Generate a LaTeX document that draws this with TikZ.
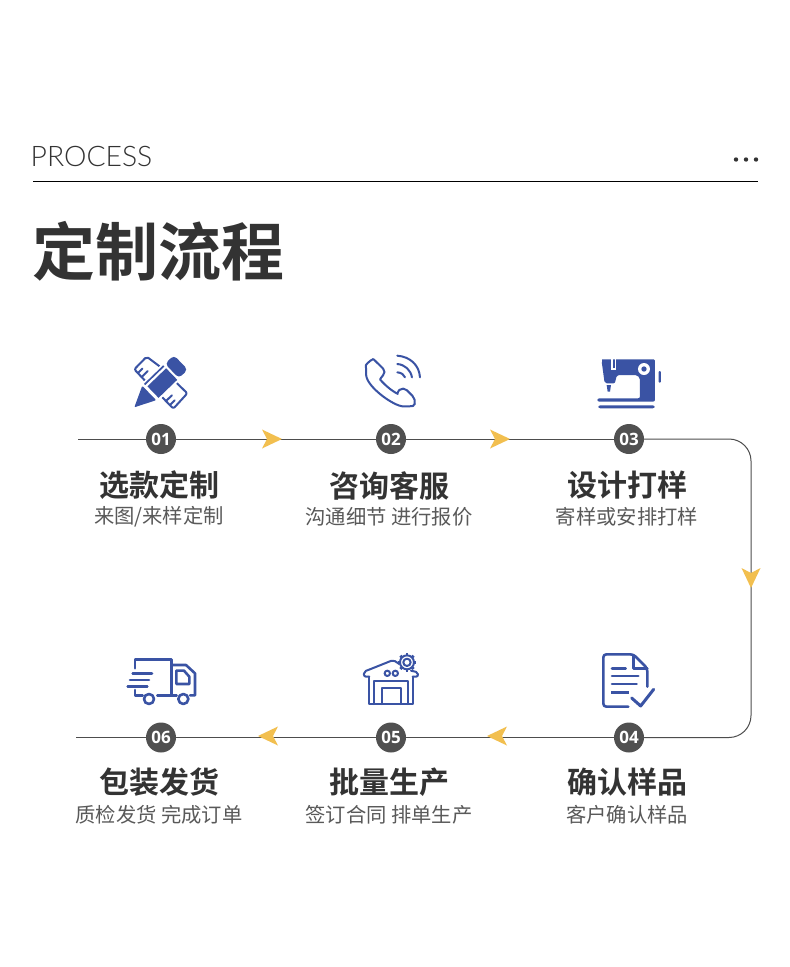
\documentclass[tikz,border=0pt]{standalone}
\usetikzlibrary{calc}
\usepackage{fontspec}
\setmainfont{Noto Sans CJK SC}[BoldFont=* Bold]
\newfontfamily\latinlight{Lato Light}
\newfontfamily\numfont{Open Sans}[BoldFont=* Bold]
\definecolor{iconblue}{HTML}{3A53A4}
\definecolor{darktxt}{HTML}{333333}
\definecolor{subtxt}{HTML}{595959}
\definecolor{linegray}{HTML}{4D4D4D}
\definecolor{badge}{HTML}{505050}
\definecolor{arrowy}{HTML}{F2BF4F}
\tikzset{
  badgenode/.style={circle,fill=badge,text=white,minimum size=30pt,inner sep=0pt,font=\numfont\bfseries\fontsize{17}{17}\selectfont},
  headnode/.style={text=darktxt,inner sep=0pt,font=\bfseries\fontsize{30}{32}\selectfont},
  subnode/.style={text=subtxt,inner sep=0pt,font=\fontsize{20.3}{22}\selectfont},
  flow/.style={draw=linegray,line width=1pt},
  iconline/.style={draw=iconblue,line width=2.6pt,line cap=round,line join=round,fill=none},
  iconthin/.style={draw=iconblue,line width=2pt,line cap=round,line join=round,fill=none},
  zoomA/.style={shift={(110,340)},x=0.3333pt,y=-0.3333pt},
  zoomB/.style={shift={(570,340)},x=0.3333pt,y=-0.3333pt},
  zoomC/.style={shift={(110,640)},x=0.3333pt,y=-0.3333pt},
  zoomD/.style={shift={(570,640)},x=0.3333pt,y=-0.3333pt},
}
\newcommand{\yarrowmark}[3]{%
  \fill[arrowy,shift={(#1,#2)},rotate=#3] (-10,-9.5) -- (10,0) -- (-10,9.5) -- (-5,0) -- cycle;}
\begin{document}
\begin{tikzpicture}[x=1pt,y=-1pt]
\useasboundingbox (0,0) rectangle (790,967);
\fill[white] (0,0) rectangle (790,967);

% header
\node[anchor=west,inner sep=0pt,text=darktxt,font=\latinlight\fontsize{28.3}{30}\selectfont] (proc) at (30.5,156) {PROCESS};
\coordinate (ruleL) at (33,181.5);
\coordinate (ruleR) at (758,181.5);
\draw[black,line width=1pt] (ruleL) -- (ruleR);
\foreach \dx in {736,746,756} \fill[darktxt] (\dx,159.5) circle (2.2pt);
\node[anchor=west,inner sep=0pt,text=darktxt,font=\bfseries\fontsize{63}{66}\selectfont] (title) at (32,251) {定制流程};

% flow line
\coordinate (startL) at (78,439);
\coordinate (cornerA) at (751,439);
\coordinate (cornerB) at (751,737.5);
\coordinate (endL) at (76,737.5);
\node[badgenode] (n1) at (161,439) {01};
\node[badgenode] (n2) at (391,439) {02};
\node[badgenode] (n3) at (629,439) {03};
\node[badgenode] (n4) at (629,737.5) {04};
\node[badgenode] (n5) at (391,737.5) {05};
\node[badgenode] (n6) at (161,737.5) {06};
\draw[flow] (startL) -- (n1);
\draw[flow] (n1) -- (n2);
\draw[flow] (n2) -- (n3);
\draw[flow,rounded corners=22pt] (n3) -- (cornerA) -- (cornerB) -- (n4);
\draw[flow] (n4) -- (n5);
\draw[flow] (n5) -- (n6);
\draw[flow] (n6) -- (endL);
\yarrowmark{272}{439}{0}
\yarrowmark{500}{439}{0}
\yarrowmark{751}{578}{-90}
\yarrowmark{497}{736}{180}
\yarrowmark{268}{736}{180}

% labels
\node[headnode] (h1) at (159,485.5) {选款定制};
\node[headnode] (h2) at (389,485.5) {咨询客服};
\node[headnode] (h3) at (627.5,485.5) {设计打样};
\node[headnode] (h4) at (627,782.5) {确认样品};
\node[headnode] (h5) at (389,782.5) {批量生产};
\node[headnode] (h6) at (159,782.5) {包装发货};
\node[subnode] (s1) at (159,516.5) {来图/来样定制};
\node[subnode] (s2) at (389,516.5) {沟通细节 进行报价};
\node[subnode] (s3) at (627,516.5) {寄样或安排打样};
\node[subnode] (s4) at (627,814.5) {客户确认样品};
\node[subnode] (s5) at (389,814.5) {签订合同 排单生产};
\node[subnode] (s6) at (159,814.5) {质检发货 完成订单};

% icon 1: pencil and ruler
\begin{scope}[zoomA]
  \draw[iconthin,rounded corners=2pt] (105,122) -- (73,88) -- (110,50) -- (150,80);
  \draw[iconthin] (84,99) -- (97,86) (95,111) -- (113,93);
  \draw[iconthin,rounded corners=2pt] (198,127) -- (232,160) -- (190,206) -- (157,172);
  \draw[iconthin] (168,183) -- (186,166) (180,195) -- (194,181);
  \fill[white,shift={(73,202)},rotate=44] (60,-36) rectangle (196,36);
  \begin{scope}[shift={(73,202)},rotate=44]
    \fill[iconblue,rounded corners=1pt] (0,0) -- (62,-30) -- (62,30) -- cycle;
    \fill[iconblue] (72,-18) rectangle (150,30);
    \draw[iconblue,line width=1.7pt] (70,-28) -- (150,-28);
    \fill[iconblue,rounded corners=4pt] (157,-30) rectangle (194,30);
  \end{scope}
\end{scope}

% icon 2: phone
\begin{scope}[zoomA]
  \draw[iconthin,rounded corners=5pt] (790,57) -- (830,96) .. controls (815,110) and (810,118) .. (820,130) -- (850,155) .. controls (860,160) and (868,150) .. (880,140) -- (918,178) .. controls (915,190) and (908,198) .. (895,200) .. controls (850,198) and (770,140) .. (768,90) .. controls (768,75) and (778,62) .. (790,57);
  \draw[iconthin] (862,97) .. controls (875,98) and (882,104) .. (885,112);
  \draw[iconthin] (862,72) .. controls (885,74) and (902,90) .. (906,112);
  \draw[iconthin] (862,47) .. controls (900,50) and (928,75) .. (930,112);
\end{scope}

% icon 3: sewing machine
\begin{scope}[zoomB]
  \fill[iconblue,rounded corners=2pt] (95,64) .. controls (96,60) and (98,58) .. (102,58) -- (245,58) .. controls (252,58) and (255,62) .. (255,68) -- (255,185) -- (82,185) -- (82,175) -- (210,175) -- (210,125) .. controls (210,112) and (202,105) .. (190,105) -- (155,105) .. controls (140,105) and (136,115) .. (136,130) -- (104,130) -- cycle;
  \fill[white] (124,58) rectangle (129,88);
  \fill[white] (134,58) rectangle (139,88);
  \fill[white] (124,85) rectangle (139,90);
  \fill[iconblue] (110,135) -- (123,135) -- (120,155) -- (113,155) -- cycle;
  \fill[white] (222,87) circle (18);
  \fill[iconblue] (222,87) circle (8);
  \fill[iconblue,rounded corners=1pt] (266,93) rectangle (273,128);
  \fill[iconblue,rounded corners=2pt] (85,196) rectangle (254,205);
\end{scope}

% icon 4: document
\begin{scope}[zoomD]
  \draw[iconline,rounded corners=3pt] (175,200) -- (100,200) -- (100,43) -- (190,43) -- (232,85) -- (232,140);
  \draw[iconline] (191,46) -- (191,85) -- (232,85);
  \draw[iconline] (126,85) -- (167,85);
  \draw[iconline] (126,108) -- (205,108);
  \draw[iconline] (126,132) -- (200,132);
  \draw[iconline,line width=3.2pt,line cap=butt] (124,157) -- (178,157);
  \draw[iconline,line width=3pt] (185,174) -- (212,198) -- (251,148);
\end{scope}

% icon 5: factory
\begin{scope}[zoomC]
  \draw[iconthin,rounded corners=2pt] (778,110) -- (762,110) -- (762,95) -- (850,60) -- (868,72);
  \draw[iconthin,rounded corners=2pt] (903,92) -- (924,97) -- (924,110) -- (908,110);
  \draw[iconthin] (778,110) -- (778,192) -- (910,192) -- (910,110);
  \draw[iconthin] (792,192) -- (792,123) -- (895,123) -- (895,192);
  \draw[iconthin] (815,192) -- (815,143) -- (874,143) -- (874,192);
  \draw[iconthin] (832,100) circle (8);
  \draw[iconthin] (856,100) circle (8);
  \draw[iconthin] (891,67) circle (11);
  \draw[iconthin] (891,67) circle (21);
  \foreach \ang in {0,45,...,315}
    \draw[iconthin,line width=2.8pt,line cap=butt] ($(891,67)+(\ang:21)$) -- ($(891,67)+(\ang:28)$);
\end{scope}

% icon 6: truck
\begin{scope}[zoomC]
  \draw[iconline] (75,85) -- (75,58) -- (185,58) -- (185,166) -- (142,166);
  \draw[iconline] (185,75) -- (228,75) -- (255,100) -- (255,166) -- (240,166);
  \draw[iconline] (199,92) -- (222,92) -- (238,110) -- (238,132) -- (199,132) -- cycle;
  \draw[iconline] (117,177) circle (15);
  \draw[iconline] (220,177) circle (15);
  \draw[iconline] (185,166) -- (200,166);
  \draw[iconline] (68,100) -- (126,100);
  \draw[iconline] (60,120) -- (117,120);
  \draw[iconline] (53,140) -- (112,140);
  \draw[iconline] (75,150) -- (75,166) -- (98,166);
\end{scope}
\end{tikzpicture}
\end{document}
